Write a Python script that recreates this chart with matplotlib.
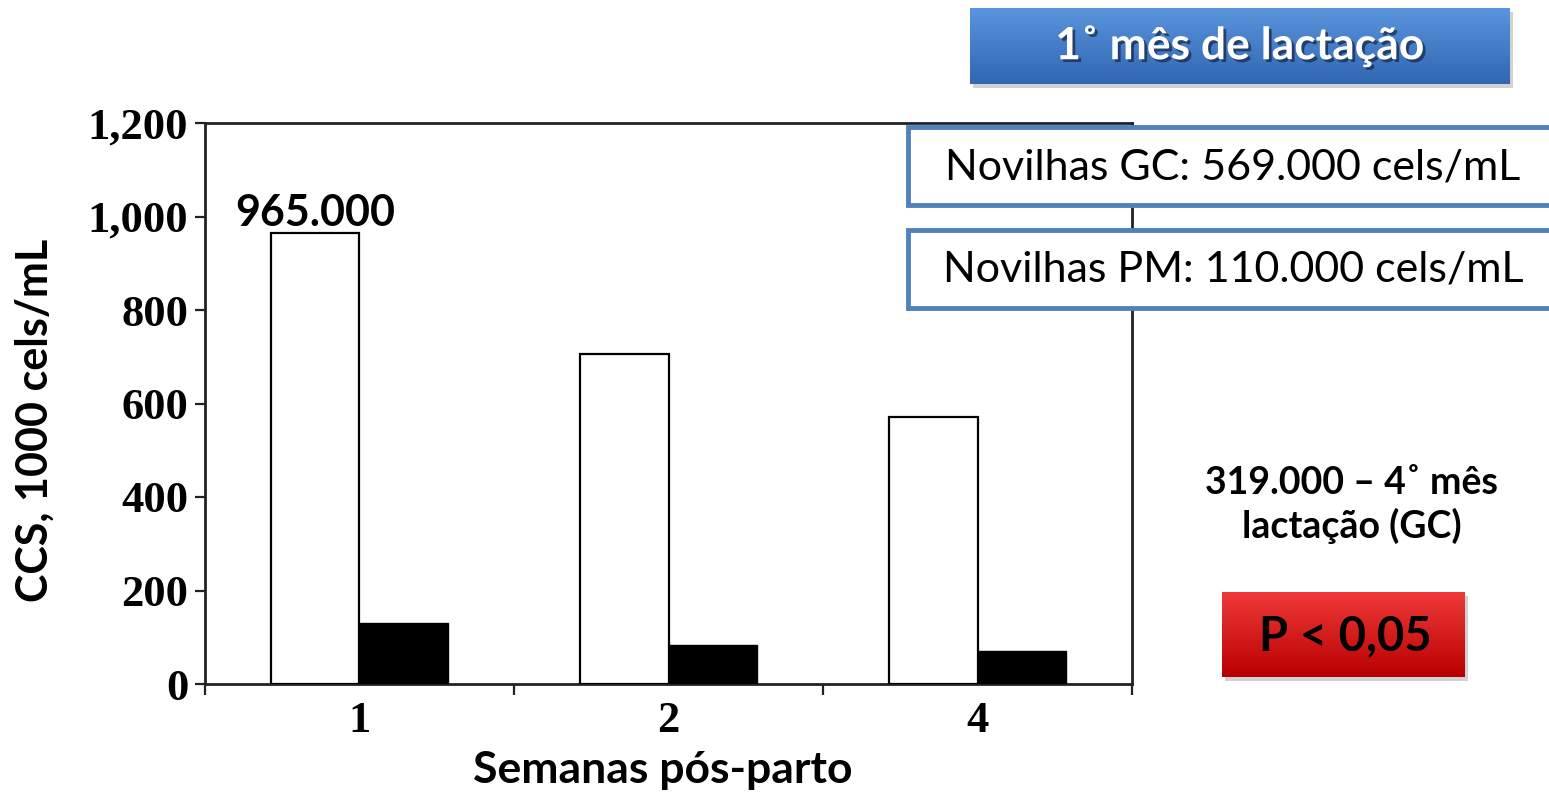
import numpy as np
import matplotlib
matplotlib.use("Agg")
import matplotlib.pyplot as plt
from matplotlib.patches import Rectangle
import matplotlib.patheffects as pe

# ---- data ----
weeks = ["1", "2", "4"]
gc_values = [965, 706, 571]    # Novilhas GC (white bars)
pm_values = [130, 83, 71]      # Novilhas PM (black bars)
y_ticks = [0, 200, 400, 600, 800, 1000, 1200]
y_ticklabels = ["0", "200", "400", "600", "800", "1,000", "1,200"]
peak_label = "965.000"
title_text = "1\u02da m\u00eas de lacta\u00e7\u00e3o"
box_gc_text = "Novilhas GC: 569.000 cels/mL"
box_pm_text = "Novilhas PM: 110.000 cels/mL"
note_text = "319.000 \u2013 4\u02da m\u00eas\nlacta\u00e7\u00e3o (GC)"
p_text = "P < 0,05"

W, H = 1549, 793
SANS = ["Lato", "DejaVu Sans"]
SERIF = ["Liberation Serif", "DejaVu Serif"]

fig = plt.figure(figsize=(W / 100, H / 100), dpi=100)
fig.patch.set_facecolor("white")

# ---- main axes ----
ax = fig.add_axes([205 / W, 1 - 684 / H, (1132 - 205) / W, (684 - 123) / H])
n = len(weeks)
centers = np.arange(n) + 0.5
bw = 0.285
ax.bar(centers - bw / 2, gc_values, width=bw, color="white", edgecolor="black", linewidth=1.6, zorder=3)
ax.bar(centers + bw / 2, pm_values, width=bw, color="black", edgecolor="black", linewidth=1.0, zorder=3)

ax.set_xlim(0, n)
ax.set_ylim(0, 1200)
ax.set_yticks(y_ticks)
ax.set_yticklabels(y_ticklabels, fontfamily=SERIF, fontweight="bold", fontsize=32)
ax.set_xticks(np.arange(n + 1))
ax.set_xticklabels([""] * (n + 1))
ax.set_xticks(centers, minor=True)
ax.set_xticklabels(weeks, minor=True, fontfamily=SERIF, fontweight="bold", fontsize=32)
ax.tick_params(axis="x", which="major", direction="out", length=8, width=1.6, color="#222222")
ax.tick_params(axis="x", which="minor", length=0, pad=12)
ax.tick_params(axis="y", direction="out", length=7, width=1.6, color="#222222", pad=5)
for s in ax.spines.values():
    s.set_linewidth(2.0)
    s.set_color("#222222")

ax.set_ylabel("CCS, 1000 cels/mL", fontfamily=SANS, fontweight="bold", fontsize=31, va="center")
ax.yaxis.set_label_coords((35 - 205) / 927, (684 - 420) / 561)
ax.set_xlabel("Semanas p\u00f3s-parto", fontfamily=SANS, fontweight="bold", fontsize=32, va="center")
ax.xaxis.set_label_coords((663 - 205) / 927, (684 - 770) / 561)

ax.annotate(peak_label, xy=(centers[0] - bw / 2, gc_values[0]), xytext=(0, 0),
            textcoords="offset points", ha="center", va="bottom",
            fontfamily=SANS, fontweight="bold", fontsize=31, zorder=5)

# ---- overlay for the slide decorations (pixel coordinates) ----
ov = fig.add_axes([0, 0, 1, 1])
ov.patch.set_alpha(0)
ov.axis("off")


def gradient_box(x0, y0, x1, y1, ctop, cbot, z):
    t = np.linspace(0, 1, 128)[:, None, None]
    c0 = np.array(matplotlib.colors.to_rgb(ctop))[None, None, :]
    c1 = np.array(matplotlib.colors.to_rgb(cbot))[None, None, :]
    img = c0 * (1 - t) + c1 * t
    img = np.repeat(img, 2, axis=1)
    ov.add_patch(Rectangle((x0 + 3, y0 + 4), x1 - x0, y1 - y0, facecolor="#000000", alpha=0.18,
                           edgecolor="none", zorder=z - 1))
    ov.imshow(img, extent=(x0, x1, y1, y0), aspect="auto", zorder=z, interpolation="bilinear")


# title box
gradient_box(970, 8, 1510, 84, "#5a95dc", "#3066b2", 3)
ov.text(1240, 46, title_text, ha="center", va="center", color="white", fontfamily=SANS,
        fontweight="bold", fontsize=32, zorder=6,
        path_effects=[pe.withSimplePatchShadow(offset=(2, -2), shadow_rgbFace="#1b2f55", alpha=0.8)])

# info boxes
for (y0, y1, txt) in [(127, 205, box_gc_text), (230, 308, box_pm_text)]:
    ov.add_patch(Rectangle((908, y0), 700, y1 - y0, facecolor="white", edgecolor="#4f81bd",
                           linewidth=3.5, zorder=4))
    ov.text(1233, (y0 + y1) / 2 + 1, txt, ha="center", va="center", color="black",
            fontfamily=SANS, fontsize=31, zorder=6)

# note text
ov.text(1352, 505, note_text, ha="center", va="center", color="black", fontfamily=SANS,
        fontweight="bold", fontsize=27, linespacing=1.25, zorder=6)

# P box
gradient_box(1222, 592, 1465, 677, "#f03a3a", "#b80000", 3)
ov.text(1345, 636, p_text, ha="center", va="center", color="black", fontfamily=SANS,
        fontweight="bold", fontsize=34, zorder=6)

ov.set_xlim(0, W)
ov.set_ylim(H, 0)

fig.savefig("out.png", dpi=100, facecolor="white")
